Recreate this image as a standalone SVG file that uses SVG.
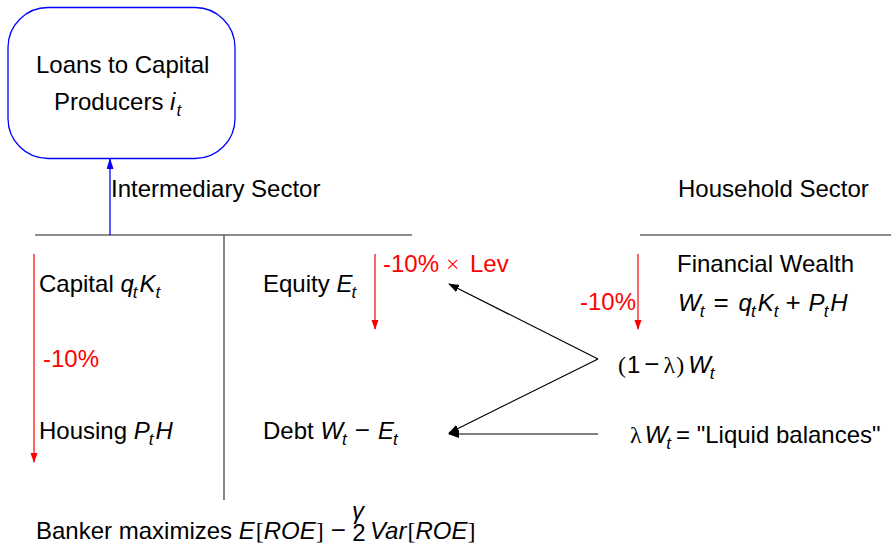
<svg xmlns="http://www.w3.org/2000/svg" width="891" height="545" viewBox="0 0 891 545">
<style>
text{font-family:"Liberation Sans",Arial,sans-serif;font-size:24px;fill:#000}
.red{fill:#ff0000}
.i{font-style:italic}
.sub{font-size:17px;font-style:italic}
.m{font-family:"Liberation Serif","DejaVu Serif",serif}
.op{font-family:"Liberation Sans",Arial,sans-serif;font-size:26px}
.rule{stroke:#666;stroke-width:1.6;fill:none}
.ra{stroke:#ff0000;stroke-width:1.2;fill:none;marker-end:url(#rh)}
.ka{stroke:#000;stroke-width:1.2;fill:none;marker-end:url(#kh)}
</style>
<defs>
<marker id="rh" markerWidth="10" markerHeight="10" refX="9" refY="3.5" orient="auto" markerUnits="userSpaceOnUse"><path d="M0,0 L10,3.5 L0,7 z" fill="#ff0000"/></marker>
<marker id="kh" markerWidth="12" markerHeight="10" refX="10" refY="4" orient="auto" markerUnits="userSpaceOnUse"><path d="M0,0 L11,4 L0,8 z" fill="#000"/></marker>
<marker id="bh" markerWidth="12" markerHeight="10" refX="10" refY="3.5" orient="auto" markerUnits="userSpaceOnUse"><path d="M0,0 L11,3.5 L0,7 z" fill="#0000ff"/></marker>
</defs>

<g id="loans">
<rect x="8" y="7.5" width="227" height="151" rx="40" ry="40" fill="#fff" stroke="#0000ff" stroke-width="1.3"/>
<text x="36" y="73">Loans to Capital</text>
<text x="54" y="110">Producers <tspan class="i">i</tspan><tspan class="sub" dy="6" dx="1">t</tspan></text>
</g>

<g id="rules">
<line class="rule" x1="35" y1="235" x2="412" y2="235"/>
<line class="rule" x1="224" y1="235" x2="224" y2="500"/>
<line class="rule" x1="640" y1="235" x2="891" y2="235"/>
</g>

<g id="intermediary"><text x="111" y="197">Intermediary Sector</text></g>
<g id="household"><text x="678" y="197">Household Sector</text></g>

<g id="capital"><text x="39" y="292">Capital <tspan class="i">q</tspan><tspan class="sub" dy="6" dx="-1">t</tspan><tspan class="i" dy="-6" dx="2">K</tspan><tspan class="sub" dy="6">t</tspan></text></g>
<g id="housing"><text x="39" y="439">Housing <tspan class="i">P</tspan><tspan class="sub" dy="6" dx="-1">t</tspan><tspan class="i" dy="-6" dx="2">H</tspan></text></g>
<g id="equity"><text x="263" y="292">Equity <tspan class="i">E</tspan><tspan class="sub" dy="6" dx="-1">t</tspan></text></g>
<g id="debt"><text x="263" y="439">Debt <tspan class="i">W</tspan><tspan class="sub" dy="6" dx="-1">t</tspan><tspan class="op" dy="-6" dx="8">−</tspan><tspan class="i" dx="8">E</tspan><tspan class="sub" dy="6" dx="-1">t</tspan></text></g>

<g id="wealth">
<text x="677" y="272">Financial Wealth</text>
<text x="678" y="311"><tspan class="i">W</tspan><tspan class="sub" dy="6" dx="-1">t</tspan><tspan class="op" dy="-6" dx="9">=</tspan><tspan class="i" dx="10">q</tspan><tspan class="sub" dy="6" dx="-1">t</tspan><tspan class="i" dy="-6" dx="2">K</tspan><tspan class="sub" dy="6">t</tspan><tspan class="op" dy="-6" dx="7">+</tspan><tspan class="i" dx="8">P</tspan><tspan class="sub" dy="6" dx="-1">t</tspan><tspan class="i" dy="-6" dx="2">H</tspan></text>
</g>
<g id="illiquid"><text x="618" y="373"><tspan class="m">(</tspan><tspan dx="1">1</tspan><tspan class="op" dx="4">−</tspan><tspan class="m" dx="4">λ</tspan><tspan class="m" dx="1">)</tspan><tspan class="i" dx="4">W</tspan><tspan class="sub" dy="6" dx="-1">t</tspan></text></g>
<g id="liquid"><text x="630" y="443"><tspan class="m">λ</tspan><tspan class="i" dx="3">W</tspan><tspan class="sub" dy="6" dx="-1">t</tspan><tspan dy="-6" dx="5">= "Liquid balances"</tspan></text></g>

<g id="labels-red">
<text class="red" x="43" y="367">-10%</text>
<text class="red" x="383" y="272">-10%<tspan class="m" x="446">×</tspan><tspan x="470">Lev</tspan></text>
<text class="red" x="580" y="310">-10%</text>
</g>

<g id="banker">
<text x="36" y="539">Banker maximizes <tspan class="i">E</tspan><tspan class="m" dx="1">[</tspan><tspan class="i">ROE</tspan><tspan class="m">]</tspan><tspan class="op" dx="7">−</tspan><tspan class="i" x="370">Var</tspan><tspan class="m" dx="1">[</tspan><tspan class="i">ROE</tspan><tspan class="m">]</tspan></text>
<text x="358" y="519" font-size="13" font-family="DejaVu Serif,serif" font-style="italic" text-anchor="middle">γ</text>
<text x="359" y="541" font-size="13" text-anchor="middle">2</text>
</g>

<g id="connectors">
<line x1="110" y1="235" x2="110" y2="159" stroke="#0000ff" stroke-width="1.3" marker-end="url(#bh)"/>
<line class="ra" x1="34" y1="254" x2="34" y2="462"/>
<line class="ra" x1="375" y1="254" x2="375" y2="329"/>
<line class="ra" x1="638" y1="254" x2="638" y2="329"/>
<line class="ka" x1="598" y1="359" x2="449" y2="284"/>
<line class="ka" x1="598" y1="359" x2="449" y2="433"/>
<line class="ka" x1="598" y1="434" x2="449" y2="434"/>
</g>
</svg>
